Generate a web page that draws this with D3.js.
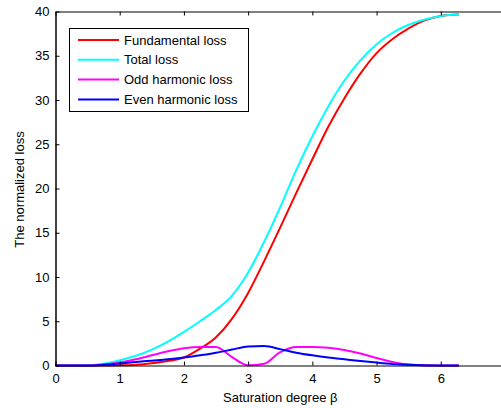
<!DOCTYPE html>
<html>
<head>
<meta charset="utf-8">
<script src="https://cdn.jsdelivr.net/npm/d3@7"></script>
<style>
  body { margin: 0; background: #fff; }
  text { font-family: "Liberation Sans", Arial, sans-serif; font-size: 13px; fill: #000; }
</style>
</head>
<body>
<div id="chart"></div>
<script>
// Data (x = saturation degree, 0 .. 2*pi)
var betas = [0, 0.25, 0.5, 0.75, 1, 1.25, 1.5, 1.75, 2, 2.25, 2.5, 2.75, 3, 3.25, 3.5,
             3.75, 4, 4.25, 4.5, 4.75, 5, 5.25, 5.5, 5.75, 6, 6.28];
var fundamentalLoss = [0, 0, 0, 0, 0.02, 0.08, 0.25, 0.5, 0.9, 1.9, 3.2, 5.3, 8.2, 11.8, 15.6,
                       19.5, 23.3, 27.0, 30.2, 33.0, 35.3, 36.9, 38.1, 39.0, 39.5, 39.65];
var totalLoss = [0, 0, 0.02, 0.2, 0.6, 1.1, 1.8, 2.7, 3.8, 5.0, 6.3, 7.9, 10.5, 14.0, 17.9,
                 22.1, 25.9, 29.3, 32.2, 34.5, 36.3, 37.6, 38.5, 39.1, 39.5, 39.65];
var oddHarmonicLoss = [0, 0, 0, 0.1, 0.35, 0.7, 1.15, 1.6, 1.95, 2.1, 2.1, 0.95, 0.02, 0.2, 1.5,
                       2.1, 2.1, 2.0, 1.75, 1.35, 0.85, 0.4, 0.1, 0.01, 0, 0];
var evenHarmonicLoss = [0, 0, 0, 0.08, 0.22, 0.4, 0.55, 0.7, 0.9, 1.15, 1.45, 1.8, 2.15, 2.2, 1.85,
                        1.45, 1.15, 0.9, 0.7, 0.5, 0.33, 0.18, 0.08, 0.03, 0.01, 0];
var seriesNames = ["Fundamental loss", "Total loss", "Odd harmonic loss", "Even harmonic loss"];
var seriesColors = ["#ff0000", "#00ffff", "#ff00ff", "#0000ff"];
var xTicks = [0, 1, 2, 3, 4, 5, 6, 7];
var xTickLabels = ["0", "1", "2", "3", "4", "5", "6", ""]; // 7 sits past the right edge
var yTicks = [0, 5, 10, 15, 20, 25, 30, 35, 40];

var w = 501;
var h = 408;

var x = d3.scaleLinear().domain([0, 7]).range([55.5, 505]);
var y = d3.scaleLinear().domain([0, 40]).range([365.5, 11.5]);

var svg = d3.select("#chart")
            .append("svg")
            .attr("width", w)
            .attr("height", h);

// lines
var allSeries = [fundamentalLoss, totalLoss, oddHarmonicLoss, evenHarmonicLoss];
var line = d3.line()
             .x(function(d) { return x(d[0]); })
             .y(function(d) { return y(d[1]); })
             .curve(d3.curveMonotoneX);

var plot = svg.append("g");
allSeries.forEach(function(vals, i) {
    plot.append("path")
        .datum(betas.map(function(b, j) { return [b, vals[j]]; }))
        .attr("d", line)
        .attr("fill", "none")
        .attr("stroke", seriesColors[i])
        .attr("stroke-width", 2);
});

// axes box, ticks inward like matlab
var tickLen = 4;
svg.append("g")
   .attr("transform", "translate(0," + y(0) + ")")
   .call(d3.axisBottom(x).tickValues(xTicks).tickSizeInner(-tickLen).tickSizeOuter(0).tickPadding(8)
           .tickFormat(function(d, i) { return xTickLabels[i]; }));
svg.append("g")
   .attr("transform", "translate(0," + y(40) + ")")
   .call(d3.axisTop(x).tickValues(xTicks).tickSizeInner(-tickLen).tickSizeOuter(0).tickFormat(""));
svg.append("g")
   .attr("transform", "translate(" + x(0) + ",0)")
   .call(d3.axisLeft(y).tickValues(yTicks).tickSizeInner(-tickLen).tickSizeOuter(0).tickPadding(6)
           .tickFormat(d3.format("d")))
   .call(function(g) { g.select(".domain").attr("stroke-width", 1.5); });
svg.append("g")
   .attr("transform", "translate(" + x(7) + ",0)")
   .call(d3.axisRight(y).tickValues(yTicks).tickSizeInner(-tickLen).tickSizeOuter(0).tickFormat(""));

svg.selectAll("g").attr("font-family", null).attr("font-size", null);

// axis labels
svg.append("text")
   .attr("x", (x(0) + x(7)) / 2)
   .attr("y", 402)
   .attr("text-anchor", "middle")
   .text("Saturation degree \u03b2");

svg.append("text")
   .attr("transform", "translate(24," + ((y(0) + y(40)) / 2 + 1) + ") rotate(-90)")
   .attr("text-anchor", "middle")
   .text("The normalized loss");

// legend
var legend = svg.append("g").attr("transform", "translate(69,28)");
legend.append("rect")
      .attr("x", 0.5)
      .attr("y", 0.5)
      .attr("width", 179)
      .attr("height", 83)
      .attr("fill", "#fff")
      .attr("stroke", "#000");
seriesNames.forEach(function(name, i) {
    var ly = 12 + i * 19.8;
    legend.append("line")
          .attr("x1", 9).attr("x2", 50)
          .attr("y1", ly).attr("y2", ly)
          .attr("stroke", seriesColors[i])
          .attr("stroke-width", 2);
    legend.append("text")
          .attr("x", 55)
          .attr("y", ly)
          .attr("dy", "0.35em")
          .text(name);
});
</script>
</body>
</html>
